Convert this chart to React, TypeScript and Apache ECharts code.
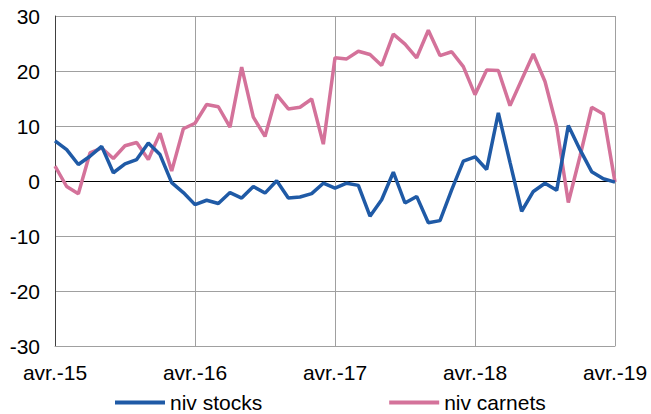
import React, { useEffect, useRef } from "react";
import * as echarts from "echarts";

const yearLabels = ["avr.-15", "avr.-16", "avr.-17", "avr.-18", "avr.-19"];

const months: string[] = [];
for (let y = 15; y <= 19; y++) {
  const names = ["avr.", "mai", "juin", "juil.", "août", "sept.", "oct.", "nov.", "déc.", "janv.", "févr.", "mars"];
  for (let m = 0; m < 12; m++) {
    if (y === 19 && m > 0) break;
    const yr = m >= 9 ? y + 1 : y;
    months.push(names[m] + "-" + yr);
  }
}

const nivStocks = [
  7.3, 5.7, 3.0, 4.5, 6.3, 1.5, 3.1, 3.9, 6.9, 4.8, -0.3, -2.1,
  -4.3, -3.5, -4.1, -2.1, -3.1, -1.0, -2.2, 0.05, -3.1, -2.9, -2.3, -0.4,
  -1.3, -0.4, -0.8, -6.4, -3.4, 1.6, -4.0, -2.8, -7.6, -7.2, -1.6, 3.6,
  4.4, 2.1, 12.4, 3.4, -5.5, -1.9, -0.4, -1.7, 10.1, 5.7, 1.7, 0.4,
  -0.2,
];

const nivCarnets = [
  2.7, -1.0, -2.3, 5.1, 6.0, 4.1, 6.4, 7.0, 3.9, 8.7, 1.8, 9.5,
  10.5, 13.9, 13.5, 9.8, 20.7, 11.6, 8.1, 15.7, 13.1, 13.4, 14.9, 6.7,
  22.4, 22.2, 23.6, 23.0, 21.0, 26.7, 24.9, 22.4, 27.4, 22.8, 23.5, 20.8,
  15.7, 20.2, 20.1, 13.7, 18.4, 23.1, 18.1, 9.9, -3.9, 4.5, 13.4, 12.2,
  -0.2,
];

const FONT = "Liberation Sans, Arial, sans-serif";

export default function App() {
  const ref = useRef<HTMLDivElement>(null);
  useEffect(() => {
    if (!ref.current) return;
    const chart = echarts.init(ref.current, undefined, { renderer: "svg" });
    chart.setOption({
      animation: false,
      grid: { left: 55, right: 36, top: 16, bottom: 68, containLabel: false },
      legend: {
        bottom: -4,
        left: 110,
        itemGap: 127,
        itemWidth: 50,
        itemHeight: 4,
        icon: "rect",
        textStyle: { fontFamily: FONT, fontSize: 21, color: "#000" },
        data: ["niv stocks", "niv carnets"],
      },
      xAxis: {
        type: "category",
        data: months,
        boundaryGap: false,
        axisLine: { onZero: false, lineStyle: { color: "#a0a0a0", width: 1 } },
        axisTick: { show: false },
        axisLabel: {
          interval: 11,
          margin: 16,
          fontFamily: FONT,
          fontSize: 21,
          color: "#000",
          formatter: (_v: string, i: number) => yearLabels[Math.round(i / 12)] ?? "",
        },
        splitLine: { show: true, interval: 11, lineStyle: { color: "#a0a0a0", width: 1 } },
      },
      yAxis: {
        type: "value",
        min: -30,
        max: 30,
        interval: 10,
        axisLine: { show: true, lineStyle: { color: "#404040", width: 1 } },
        axisTick: { show: false },
        axisLabel: { margin: 15, fontFamily: FONT, fontSize: 21, color: "#000" },
        splitLine: {
          show: true,
          lineStyle: {
            color: ["#a0a0a0", "#a0a0a0", "#a0a0a0", "#000000", "#a0a0a0", "#a0a0a0", "#a0a0a0"],
            width: 1,
          },
        },
      },
      series: [
        {
          name: "niv stocks",
          type: "line",
          data: nivStocks,
          showSymbol: false,
          symbol: "none",
          lineStyle: { color: "#1F5AA6", width: 3.5 },
          itemStyle: { color: "#1F5AA6" },
          z: 3,
        },
        {
          name: "niv carnets",
          type: "line",
          data: nivCarnets,
          showSymbol: false,
          symbol: "none",
          lineStyle: { color: "#D4729A", width: 3.5 },
          itemStyle: { color: "#D4729A" },
          z: 2,
        },
      ],
    });
    return () => chart.dispose();
  }, []);
  return <div ref={ref} style={{ width: 651, height: 414, position: "absolute", left: 0, top: 0 }} />;
}
